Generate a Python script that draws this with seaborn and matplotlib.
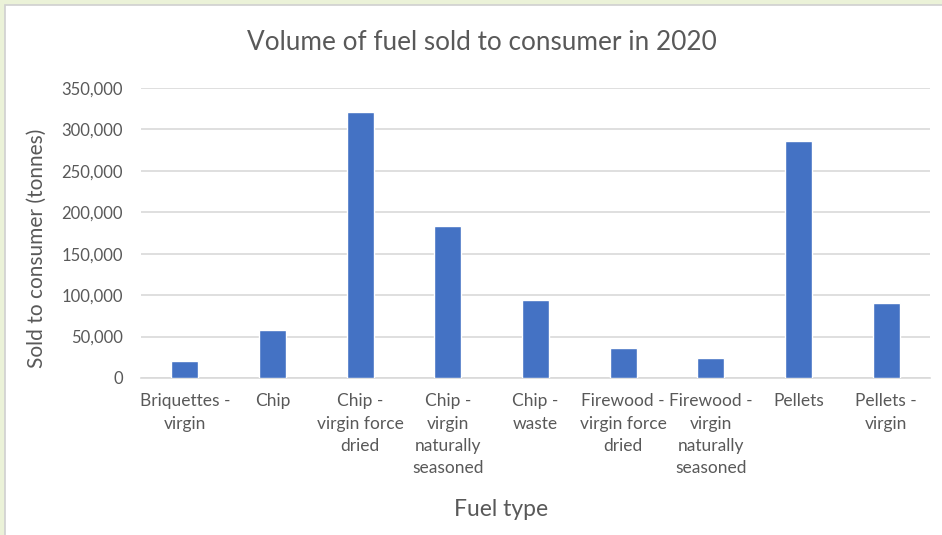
"""
Bar chart: volume of fuel sold to consumer in 2020 (Excel-style look).
"""

import matplotlib
matplotlib.use("Agg")
import matplotlib.pyplot as plt
from matplotlib.patches import Rectangle
from matplotlib.ticker import FuncFormatter, MultipleLocator
import pandas as pd
import seaborn as sns

# Data
fuel_types = [
    "Briquettes -\nvirgin",
    "Chip",
    "Chip -\nvirgin force\ndried",
    "Chip -\nvirgin\nnaturally\nseasoned",
    "Chip -\nwaste",
    "Firewood -\nvirgin force\ndried",
    "Firewood -\nvirgin\nnaturally\nseasoned",
    "Pellets",
    "Pellets -\nvirgin",
]
tonnes_sold = [20000, 58000, 321000, 183000, 94500, 36000, 23700, 285500, 90000]

title = "Volume of fuel sold to consumer in 2020"
x_label = "Fuel type"
y_label = "Sold to consumer (tonnes)"

BAR_COLOR = "#4472C4"
TEXT_COLOR = "#595959"
GRID_COLOR = "#D9D9D9"


def main():
    sns.set_theme(style="white")
    plt.rcParams["font.family"] = ["Lato", "DejaVu Sans"]

    df = pd.DataFrame({"fuel": fuel_types, "tonnes": tonnes_sold})

    fig = plt.figure(figsize=(9.42, 5.35), dpi=100)
    fig.patch.set_facecolor("#EBF2D8")
    # white chart area with thin grey border (behind the axes)
    fig.patches.append(Rectangle((5 / 942, -0.01), 1.0, 1 - 5 / 535 + 0.01,
                                 transform=fig.transFigure, facecolor="white",
                                 edgecolor="#D0D0D0", linewidth=1.2, zorder=-10))

    ax = fig.add_axes([141 / 942, 1 - 378 / 535, (930 - 141) / 942, (378 - 88) / 535])
    ax.set_facecolor("none")
    sns.barplot(data=df, x="fuel", y="tonnes", color=BAR_COLOR, saturation=1,
                width=0.31, ax=ax, zorder=3)

    ax.set_ylim(0, 350000)
    ax.set_xlim(-0.5, len(fuel_types) - 0.5)
    ax.yaxis.set_major_locator(MultipleLocator(50000))
    ax.yaxis.set_major_formatter(FuncFormatter(lambda v, _: f"{int(v):,}"))
    ax.grid(axis="y", color=GRID_COLOR, linewidth=1.2, zorder=0)
    ax.set_axisbelow(True)

    for side in ["top", "right", "left"]:
        ax.spines[side].set_visible(False)
    ax.spines["bottom"].set_color(GRID_COLOR)
    ax.spines["bottom"].set_linewidth(1.2)

    ax.tick_params(axis="y", length=0, pad=13, labelsize=12, labelcolor=TEXT_COLOR)
    ax.tick_params(axis="x", length=0, pad=11, labelsize=12.5, labelcolor=TEXT_COLOR)
    for lbl in ax.get_xticklabels():
        lbl.set_linespacing(1.48)
        lbl.set_ha("center")
        lbl.set_multialignment("center")

    ax.set_xlabel("")
    ax.set_ylabel("")

    fig.text(482 / 942, 1 - 42 / 535, title, ha="center", va="center",
             fontsize=18.8, color=TEXT_COLOR)
    fig.text(501 / 942, 1 - 510 / 535, x_label, ha="center", va="center",
             fontsize=16.5, color=TEXT_COLOR)
    fig.text(37 / 942, 1 - 248 / 535, y_label, ha="center", va="center",
             rotation=90, fontsize=15, color=TEXT_COLOR)

    fig.savefig("out.png", dpi=100, facecolor=fig.get_facecolor())
    plt.close(fig)


if __name__ == "__main__":
    main()
